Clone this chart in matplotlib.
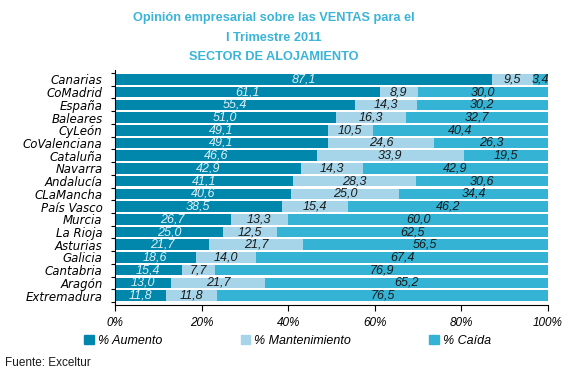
import matplotlib.pyplot as plt
import numpy as np
from matplotlib.patches import Patch
from matplotlib.ticker import FixedLocator

plt.rcParams['font.family'] = ['Liberation Sans', 'DejaVu Sans']

regiones = ['Canarias', 'CoMadrid', 'España', 'Baleares', 'CyLeón', 'CoValenciana',
            'Cataluña', 'Navarra', 'Andalucía', 'CLaMancha', 'País Vasco', 'Murcia',
            'La Rioja', 'Asturias', 'Galicia', 'Cantabria', 'Aragón', 'Extremadura']
aumento = [87.1, 61.1, 55.4, 51.0, 49.1, 49.1, 46.6, 42.9, 41.1, 40.6, 38.5, 26.7,
           25.0, 21.7, 18.6, 15.4, 13.0, 11.8]
mantenimiento = [9.5, 8.9, 14.3, 16.3, 10.5, 24.6, 33.9, 14.3, 28.3, 25.0, 15.4, 13.3,
                 12.5, 21.7, 14.0, 7.7, 21.7, 11.8]
caida = [3.4, 30.0, 30.2, 32.7, 40.4, 26.3, 19.5, 42.9, 30.6, 34.4, 46.2, 60.0,
         62.5, 56.5, 67.4, 76.9, 65.2, 76.5]

c_aum = '#0087ab'
c_man = '#a6d5ea'
c_cai = '#34b3d4'

fig = plt.figure(figsize=(5.65, 3.72), dpi=100)
ax = fig.add_axes([115 / 565, 1 - 305 / 372, 433 / 565, 235 / 372])

y = np.arange(len(regiones))
a = np.array(aumento)
m = np.array(mantenimiento)
c = np.array(caida)
h = 0.84
ax.barh(y, a, height=h, color=c_aum)
ax.barh(y, m, left=a, height=h, color=c_man)
ax.barh(y, c, left=a + m, height=h, color=c_cai)


def fmt(v):
    return f'{v:.1f}'.replace('.', ',')


# value labels centred in each segment
for i in range(len(regiones)):
    ax.text(a[i] / 2, i, fmt(a[i]), ha='center', va='center',
            fontsize=9, style='italic', color='#dcf0f6')
    ax.text(a[i] + m[i] / 2, i, fmt(m[i]), ha='center', va='center',
            fontsize=9, style='italic', color='#1a1a1a')
    ax.text(a[i] + m[i] + c[i] / 2, i, fmt(c[i]), ha='center',
            va='center', fontsize=9, style='italic', color='#1a1a1a')

ax.set_xlim(0, 100)
ax.set_ylim(len(regiones) - 0.26, -0.74)
ax.set_xticks([0, 20, 40, 60, 80, 100])
ax.set_xticklabels(['0%', '20%', '40%', '60%', '80%', '100%'], fontsize=8.5, style='italic')
ax.set_yticks(y)
ax.set_yticklabels(regiones, fontsize=8.5, style='italic', family='DejaVu Sans')
ax.yaxis.set_minor_locator(FixedLocator(np.arange(-0.5, len(regiones), 1.0)))
ax.tick_params(axis='y', which='major', length=0, pad=9)
ax.tick_params(axis='y', which='minor', length=3, direction='out', width=0.8)
ax.tick_params(axis='x', length=4, direction='out', width=0.8, pad=5)
for s in ['top', 'right']:
    ax.spines[s].set_visible(False)
ax.spines['left'].set_linewidth(0.8)
ax.spines['bottom'].set_linewidth(0.8)

fig.text(0.484, 1 - 12 / 372,
         'Opinión empresarial sobre las VENTAS para el\nI Trimestre 2011\nSECTOR DE ALOJAMIENTO',
         ha='center', va='top', fontsize=9.2, fontweight='bold', color='#3ab4d8',
         linespacing=1.85)

handles = [Patch(color=c_aum, label='% Aumento'),
           Patch(color=c_man, label='% Mantenimiento'),
           Patch(color=c_cai, label='% Caída')]
fig.legend(handles=handles, loc='center', bbox_to_anchor=(0.509, 1 - 341 / 372),
           ncol=3, frameon=False, handlelength=0.75, handleheight=0.75,
           handletextpad=0.3, columnspacing=6.3,
           prop={'size': 9, 'style': 'italic'})

fig.text(5 / 565, 1 - 363 / 372, 'Fuente: Exceltur', fontsize=8.5, va='center', color='#1a1a1a')

fig.savefig('out.png', dpi=100)
